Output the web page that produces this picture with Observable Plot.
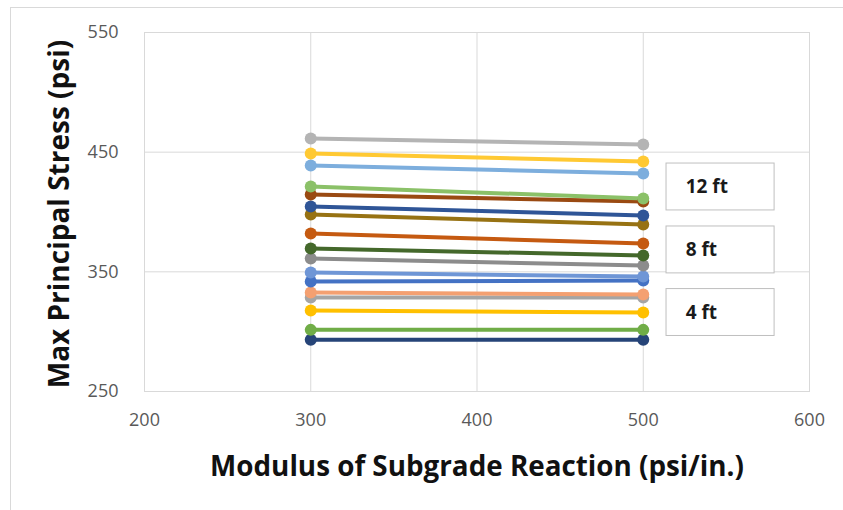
<!DOCTYPE html>
<html>
<head>
<meta charset="utf-8">
<script src="https://cdn.jsdelivr.net/npm/d3@7"></script>
<script src="https://cdn.jsdelivr.net/npm/@observablehq/plot@0.6"></script>
<style>
  html, body { margin: 0; padding: 0; background: #fff; }
  #wrap { position: relative; width: 843px; height: 510px; overflow: hidden; }
  #border { position: absolute; left: 10px; top: 7px; width: 900px; height: 600px;
            border-left: 1px solid #d9d9d9; border-top: 1px solid #d9d9d9; }
  #chart { position: absolute; left: 0; top: 0; }
</style>
</head>
<body>
<div id="wrap"><div id="border"></div><div id="chart"></div></div>
<script>
// ---- data ----
const modulus = [300, 500];
const seriesNames = ["S1","S2","S3","S4","S5","S6","S7","S8","S9","S10","S11","S12","S13","S14","S15","S16","S17"];
const stressAt300 = [461.4, 448.9, 438.9, 421.3, 414.6, 404.6, 397.9, 382.0, 369.5, 361.1, 349.4, 341.9, 332.7, 328.6, 317.7, 301.5, 293.2];
const stressAt500 = [456.4, 442.2, 432.2, 411.3, 408.8, 397.1, 389.6, 373.7, 363.7, 355.3, 346.1, 342.8, 331.1, 328.6, 316.0, 301.5, 293.2];
const seriesColors = ["#B4B4B4","#FFC933","#7DAEDD","#8BC168","#9A4A12","#2F5597","#977213","#C55A11","#44682B","#8C8C8C","#6F96D6","#4472C4","#F4A071","#A5A5A5","#FFC000","#70AD47","#264478"];
const xTicks = [200, 300, 400, 500, 600];
const yTicks = [250, 350, 450, 550];
const groupLabels = ["12 ft", "8 ft", "4 ft"];
const groupStress = [420.9, 368.3, 316.0];

// ---- build tidy table ----
const rows = [];
seriesNames.forEach((s, i) => {
  rows.push({series: s, k: modulus[0], v: stressAt300[i]});
  rows.push({series: s, k: modulus[1], v: stressAt500[i]});
});
const drawRows = rows.slice().reverse();
const boxes = groupLabels.map((t, i) => ({label: t, y: groupStress[i]}));

const chart = Plot.plot({
  width: 843,
  height: 510,
  marginLeft: 144,
  marginRight: 34,
  marginTop: 32,
  marginBottom: 119,
  style: {fontFamily: "'Open Sans', sans-serif", background: "transparent"},
  x: {domain: [200, 600], ticks: xTicks},
  y: {domain: [250, 550], ticks: yTicks},
  color: {domain: seriesNames, range: seriesColors},
  marks: [
    Plot.gridX(xTicks, {stroke: "#d9d9d9", strokeOpacity: 1}),
    Plot.gridY(yTicks, {stroke: "#d9d9d9", strokeOpacity: 1}),
    Plot.frame({stroke: "#d9d9d9"}),
    Plot.axisX(xTicks, {tickSize: 0, tickPadding: 22, fontSize: 18, fill: "#595959", label: null}),
    Plot.axisY(yTicks, {tickSize: 0, tickPadding: 26, fontSize: 18, fill: "#595959", label: null}),
    Plot.line(drawRows, {x: "k", y: "v", z: "series", stroke: "series", strokeWidth: 4}),
    Plot.dot(drawRows, {x: "k", y: "v", fill: "series", r: 6}),
    Plot.rect(boxes, {x1: 514, x2: 579, y1: d => d.y - 19.6, y2: d => d.y + 19.6, fill: "white", stroke: "#bfbfbf", strokeWidth: 1}),
    Plot.text(boxes, {x: 525.5, y: "y", text: "label", textAnchor: "start", fontSize: 19, fontWeight: "bold", fill: "#1a1a1a"}),
    Plot.text(["Max Principal Stress (psi)"], {frameAnchor: "left", textAnchor: "middle", lineAnchor: "middle", dx: -84, dy: 2, rotate: -90, fontSize: 28, fontWeight: "bold", fill: "#111"}),
    Plot.text(["Modulus of Subgrade Reaction (psi/in.)"], {frameAnchor: "bottom", textAnchor: "middle", lineAnchor: "middle", dy: 76, fontSize: 27.8, fontWeight: "bold", fill: "#111"})
  ]
});
document.getElementById("chart").appendChild(chart);
</script>
</body>
</html>
